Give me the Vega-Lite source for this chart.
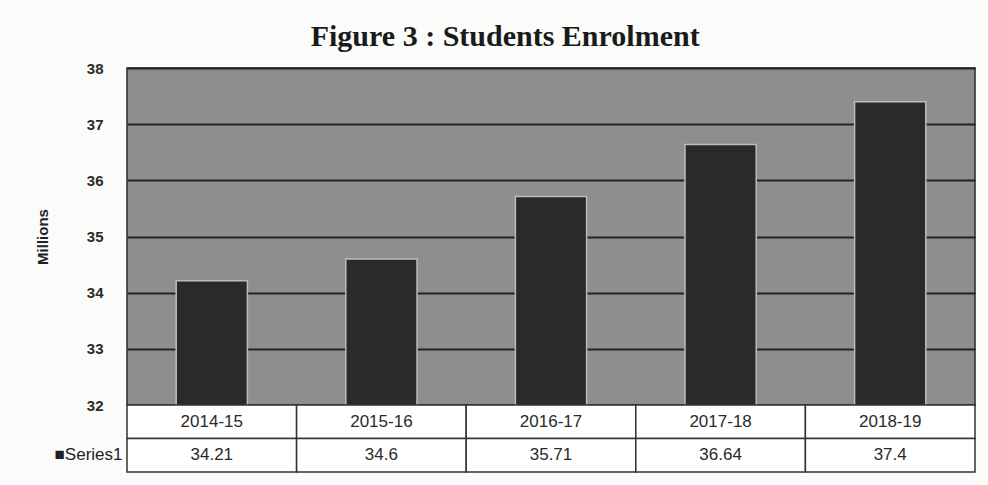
{
  "$schema": "https://vega.github.io/schema/vega-lite/v6.json",
  "background": "#fbfbfa",
  "padding": {"left": 34, "top": 22, "right": 12, "bottom": 10},
  "bounds": "flush",
  "title": {"text": "Figure 3 : Students Enrolment", "font": "Liberation Serif", "fontSize": 30, "fontWeight": "bold", "color": "#1a1a1a", "anchor": "middle", "frame": "bounds", "offset": 8},
  "data": {"values": [
    {"year": "2014-15", "value": 34.21, "label": "34.21"},
    {"year": "2015-16", "value": 34.6, "label": "34.6"},
    {"year": "2016-17", "value": 35.71, "label": "35.71"},
    {"year": "2017-18", "value": 36.64, "label": "36.64"},
    {"year": "2018-19", "value": 37.4, "label": "37.4"}
  ]},
  "spacing": 0,
  "vconcat": [
    {
      "width": 848,
      "height": 337,
      "view": {"fill": "#8e8e8e", "stroke": "#2a2a2a", "strokeWidth": 1.5},
      "mark": {"type": "bar", "color": "#2a2a2a", "stroke": "#bdbdbd", "strokeWidth": 1.5, "clip": true},
      "encoding": {
        "x": {"field": "year", "type": "nominal", "sort": null, "axis": null, "scale": {"paddingInner": 0.58, "paddingOuter": 0.29}},
        "y": {"field": "value", "type": "quantitative", "title": "Millions",
          "scale": {"domain": [32, 38], "zero": false, "nice": false},
          "axis": {"values": [32, 33, 34, 35, 36, 37, 38], "grid": true, "gridColor": "#222222", "gridWidth": 1.8, "gridOpacity": 1,
            "domain": false, "ticks": false, "labelFont": "Liberation Sans", "labelFontSize": 15, "labelFontWeight": "bold", "labelColor": "#2b2b2b", "labelPadding": 24,
            "titleFont": "Liberation Sans", "titleFontSize": 15, "titleFontWeight": "bold", "titleColor": "#222", "titlePadding": 36}}
      }
    },
    {
      "width": 848,
      "height": 67,
      "view": {"stroke": null},
      "encoding": {
        "x": {"field": "year", "type": "nominal", "sort": null, "axis": null, "scale": {"paddingInner": 0, "paddingOuter": 0}}
      },
      "layer": [
        {
          "mark": {"type": "rect", "fill": "#ffffff", "stroke": "#333333", "strokeWidth": 1.5},
          "encoding": {"y": {"datum": "header", "type": "nominal", "scale": {"domain": ["header", "Series1"], "paddingInner": 0, "paddingOuter": 0},
            "axis": {"title": null, "domain": false, "ticks": false, "labelExpr": "datum.value == 'Series1' ? '■Series1' : ''", "labelFont": "Liberation Sans", "labelFontSize": 17, "labelColor": "#222", "labelPadding": 5}}}
        },
        {
          "mark": {"type": "rect", "fill": "#ffffff", "stroke": "#333333", "strokeWidth": 1.5},
          "encoding": {"y": {"datum": "Series1", "type": "nominal"}}
        },
        {
          "mark": {"type": "text", "font": "Liberation Sans", "fontSize": 17, "color": "#2a2a2a"},
          "encoding": {"y": {"datum": "header", "type": "nominal"}, "text": {"field": "year"}}
        },
        {
          "mark": {"type": "text", "font": "Liberation Sans", "fontSize": 17, "color": "#2a2a2a"},
          "encoding": {"y": {"datum": "Series1", "type": "nominal"}, "text": {"field": "label"}}
        }
      ]
    }
  ]
}
